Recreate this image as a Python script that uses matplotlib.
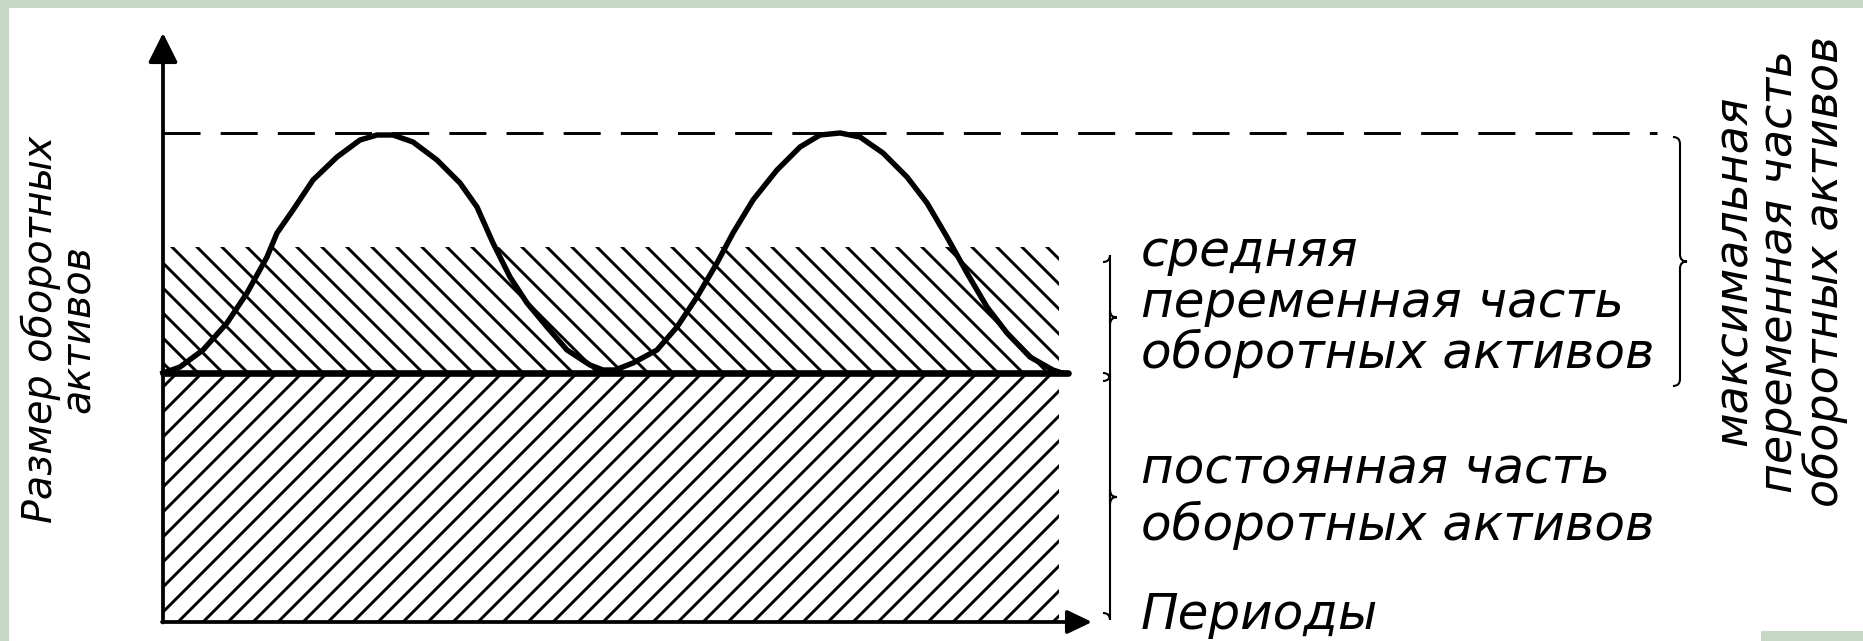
import matplotlib
matplotlib.use('Agg')
import matplotlib.pyplot as plt
from matplotlib.patches import Rectangle, PathPatch
from matplotlib.path import Path

# уровни (условные единицы)
base_level = 2.49   # постоянная часть
mean_level = 3.75   # средняя переменная часть
max_level = 4.89    # максимум
period_end = 8.96

# кривая потребности в оборотных активах
curve_x = [0.00, 0.17, 0.40, 0.64, 0.84, 1.04, 1.14, 1.30, 1.50, 1.74, 1.97, 2.14, 2.30, 2.50,
           2.74, 2.97, 3.14, 3.30, 3.47, 3.64, 3.84, 4.04, 4.27, 4.40, 4.52, 4.70, 4.94, 5.14,
           5.34, 5.54, 5.70, 5.90, 6.14, 6.37, 6.57, 6.77, 6.97, 7.20, 7.44, 7.64, 7.84, 8.04,
           8.24, 8.44, 8.67, 8.90, 8.99]
curve_y = [2.49, 2.55, 2.72, 2.99, 3.29, 3.65, 3.89, 4.12, 4.42, 4.65, 4.82, 4.87, 4.87, 4.80,
           4.62, 4.39, 4.15, 3.79, 3.45, 3.19, 2.95, 2.72, 2.57, 2.52, 2.52, 2.59, 2.72, 2.95,
           3.25, 3.59, 3.89, 4.22, 4.52, 4.75, 4.87, 4.89, 4.85, 4.69, 4.45, 4.19, 3.85, 3.49,
           3.15, 2.89, 2.65, 2.52, 2.49]

block_mean = ['средняя', 'переменная часть', 'оборотных активов']
block_const = ['постоянная часть', 'оборотных активов']
block_max = 'максимальная\nпеременная часть\nоборотных активов'
y_label = ['Размер оборотных', 'активов']
x_label = 'Периоды'

plt.rcParams['font.family'] = ['DejaVu Sans']
plt.rcParams['hatch.linewidth'] = 1.4

fig = plt.figure(figsize=(1864 / 150, 641 / 150), dpi=150)
fig.patch.set_facecolor('white')
green = '#c7d7c6'
fig.patches.append(Rectangle((0, 1 - 7 / 641), 1, 7 / 641, transform=fig.transFigure, color=green, zorder=0))
fig.patches.append(Rectangle((0, 0), 8 / 1864, 1, transform=fig.transFigure, color=green, zorder=0))
fig.patches.append(Rectangle((1762 / 1864, 0), 102 / 1864, 9 / 641, transform=fig.transFigure, color=green, zorder=0))

ax = fig.add_axes([0, 0, 1, 1])
ax.set_xlim(-1.63, 17.01)
ax.set_ylim(-0.19, 6.22)
ax.axis('off')

# заштрихованные области
ax.fill_between([0, period_end], 0, base_level, facecolor='white', edgecolor='black',
                hatch='//', linewidth=0, zorder=1)
ax.fill_between([0, period_end], base_level, mean_level, facecolor='white', edgecolor='black',
                hatch='\\\\', linewidth=0, zorder=1)

ax.plot([0, 14.94], [max_level, max_level], color='black', lw=1.4, ls=(0, (12.7, 6.9)), zorder=2)
ax.plot(curve_x, curve_y, color='black', lw=2.6, solid_joinstyle='round', zorder=3)
ax.plot([0, 9.05], [base_level, base_level], color='black', lw=3.2, solid_capstyle='round', zorder=4)

# оси со стрелками
ax.annotate('', xy=(0, 5.89), xytext=(0, -0.005),
            arrowprops=dict(arrowstyle='-|>,head_length=0.6,head_width=0.3', mutation_scale=20,
                            lw=1.8, color='black', shrinkA=0, shrinkB=0), zorder=5)
ax.annotate('', xy=(9.29, 0), xytext=(-0.01, 0),
            arrowprops=dict(arrowstyle='-|>,head_length=0.5,head_width=0.24', mutation_scale=20,
                            lw=1.8, color='black', shrinkA=0, shrinkB=0), zorder=5)


def brace(x, y0, y1, w=0.07, r=0.07):
    ym = (y0 + y1) / 2
    verts = [(x - w, y0), (x, y0), (x, y0 + r),
             (x, ym - r), (x, ym), (x + w, ym),
             (x, ym), (x, ym + r),
             (x, y1 - r), (x, y1), (x - w, y1)]
    codes = [Path.MOVETO, Path.CURVE3, Path.CURVE3,
             Path.LINETO, Path.CURVE3, Path.CURVE3,
             Path.CURVE3, Path.CURVE3,
             Path.LINETO, Path.CURVE3, Path.CURVE3]
    ax.add_patch(PathPatch(Path(verts, codes), fill=False, lw=1.0, color='black'))


brace(9.47, 3.60, base_level)
brace(9.47, base_level - 0.08, 0.09)
brace(15.17, base_level - 0.13, max_level - 0.04)

fs = 24
for i, line in enumerate(block_mean):
    ax.text(9.78, 3.56 - i * 0.51, line, fontsize=fs, style='italic', va='baseline', ha='left')
for i, line in enumerate(block_const):
    ax.text(9.78, 1.39 - i * 0.57, line, fontsize=fs, style='italic', va='baseline', ha='left')
ax.text(9.78, -0.07, x_label, fontsize=fs, style='italic', va='baseline', ha='left')

ax.text(-1.11, 2.93, y_label[0], fontsize=19, style='italic', rotation=90,
        rotation_mode='anchor', ha='center', va='baseline')
ax.text(-0.73, 2.93, y_label[1], fontsize=19, style='italic', rotation=90,
        rotation_mode='anchor', ha='center', va='baseline')

ax.text(16.17, 3.51, block_max, fontsize=22, style='italic', rotation=90,
        ha='center', va='center', multialignment='center', linespacing=1.0)

fig.savefig('out.png', dpi=150)
